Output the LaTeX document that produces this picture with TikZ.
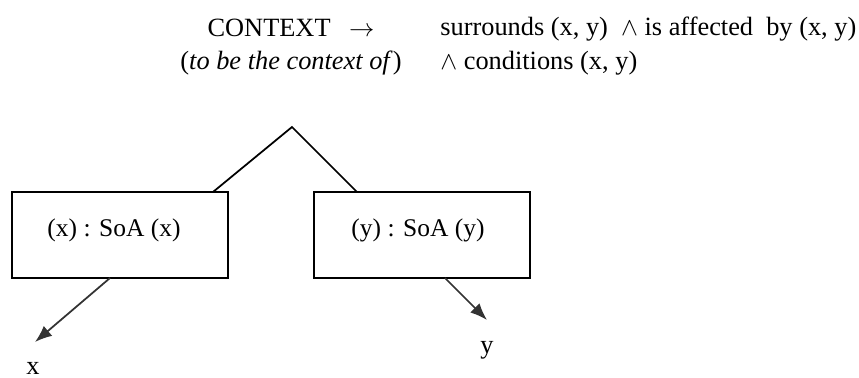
\documentclass[tikz,border=0pt]{standalone}
\usepackage{fontspec}
\setmainfont{Liberation Serif}
\usetikzlibrary{arrows.meta}
\begin{document}
\begin{tikzpicture}[x=0.02cm,y=-0.02cm,font=\fontsize{15}{18}\selectfont,
    soabox/.style={draw,line width=0.75pt,minimum width=216*0.02cm,minimum height=86*0.02cm,inner sep=0pt},
    branch/.style={line width=1pt},
    pointer/.style={line width=1pt,-{Latex[length=3.4mm,width=2.6mm]},draw=black!80}]
    \useasboundingbox (0,0) rectangle (859,378);
    % heading
    \node[anchor=base] (ctx) at (291,37) {CONTEXT\hspace{0.7em}$\rightarrow$};
    \node[anchor=base] (gloss) at (291,70) {(\textit{to be the context of})};
    \node[anchor=base west,inner xsep=0pt] (def1) at (440,36) {surrounds (x, y)\ \ $\wedge$ is affected\ \ by (x, y)};
    \node[anchor=base west,inner xsep=0pt] (def2) at (440,70) {$\wedge$ conditions (x, y)};
    % tree
    \coordinate (apex) at (292,127);
    \node[soabox] (lft) at (120,235) {};
    \node[soabox] (rgt) at (422,235) {};
    \node[anchor=base,font=\fontsize{14.5}{17}\selectfont] (lfttxt) at (114,237) {(x) : SoA (x)};
    \node[anchor=base,font=\fontsize{14.5}{17}\selectfont] (rgttxt) at (418,237) {(y) : SoA (y)};
    \coordinate (lfttop) at (213,192);
    \coordinate (rgttop) at (357,192);
    \draw[branch] (lfttop) -- (apex) -- (rgttop);
    \node (x) at (33,368) {x};
    \node (y) at (487,350) {y};
    \coordinate (lftbot) at (110,278);
    \coordinate (rgtbot) at (445,278);
    \draw[pointer] (lftbot) -- (35,342);
    \draw[pointer] (rgtbot) -- (487,320);
\end{tikzpicture}
\end{document}
